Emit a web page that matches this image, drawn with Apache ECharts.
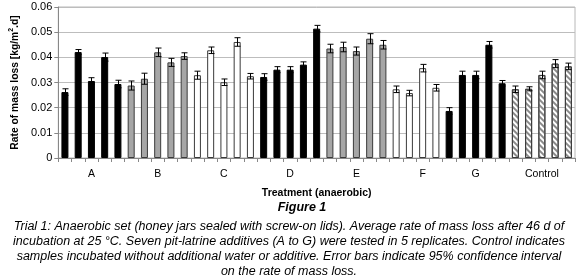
<!DOCTYPE html>
<html>
<head>
<meta charset="utf-8">
<script src="https://cdn.jsdelivr.net/npm/echarts@6/dist/echarts.min.js"></script>
<style>
html,body{margin:0;padding:0;background:#fff;}
#c{width:580px;height:278px;}
</style>
</head>
<body>
<div id="c"></div>
<script>
// ---- data ----
const groupNames = ['A', 'B', 'C', 'D', 'E', 'F', 'G', 'Control'];
const groupSizes = [5, 5, 5, 5, 5, 4, 5, 5];
const rateA = [0.0262, 0.0421, 0.0306, 0.0401, 0.0294];
const rateB = [0.0288, 0.0315, 0.0420, 0.0380, 0.0405];
const rateC = [0.0329, 0.0428, 0.0301, 0.0461, 0.0325];
const rateD = [0.0322, 0.0351, 0.0351, 0.0371, 0.0514];
const rateE = [0.0435, 0.0441, 0.0425, 0.0474, 0.0450];
const rateF = [0.0273, 0.0258, 0.0357, 0.0279];
const rateG = [0.0187, 0.0330, 0.0330, 0.0450, 0.0297];
const rateControl = [0.0273, 0.0275, 0.0330, 0.0375, 0.0364];
const ciA = [0.0013, 0.0010, 0.0013, 0.0016, 0.0015];
const ciB = [0.0018, 0.0022, 0.0017, 0.0016, 0.0013];
const ciC = [0.0016, 0.0013, 0.0013, 0.0017, 0.0011];
const ciD = [0.0013, 0.0012, 0.0012, 0.0011, 0.0013];
const ciE = [0.0017, 0.0019, 0.0016, 0.0020, 0.0017];
const ciF = [0.0013, 0.0011, 0.0015, 0.0013];
const ciG = [0.0013, 0.0015, 0.0015, 0.0013, 0.0011];
const ciControl = [0.0013, 0.0008, 0.0015, 0.0016, 0.0013];
const yTicks = [0, 0.01, 0.02, 0.03, 0.04, 0.05, 0.06];
const yTitle = 'Rate of mass loss [kg/m';
const xTitle = 'Treatment (anaerobic)';
const figTitle = 'Figure 1';
const captionLines = [
  'Trial 1: Anaerobic set (honey jars sealed with screw-on lids). Average rate of mass loss after 46 d of',
  'incubation at 25 \u00B0C. Seven pit-latrine additives (A to G) were tested in 5 replicates. Control indicates',
  'samples incubated without additional water or additive. Error bars indicate 95% confidence interval',
  'on the rate of mass loss.'
];

const rates = [rateA, rateB, rateC, rateD, rateE, rateF, rateG, rateControl];
const cis = [ciA, ciB, ciC, ciD, ciE, ciF, ciG, ciControl];

// ---- styles (kept separate from data) ----
const black = {color: '#000', borderColor: '#000', borderWidth: 1};
const gray = {color: '#a6a6a6', borderColor: '#3a3a3a', borderWidth: 1};
const white = {color: '#fff', borderColor: '#3a3a3a', borderWidth: 1};
const hatch = {color: '#fff', borderColor: '#3a3a3a', borderWidth: 1,
  decal: {symbol: 'rect', symbolSize: 1, dashArrayX: [1, 0], dashArrayY: [1.5, 1.5], rotation: Math.PI / 4, color: '#8a8a8a'}};
const groupStyles = [black, gray, white, black, gray, white, black, hatch];

const cats = [], barData = [], errData = [];
groupNames.forEach((g, gi) => {
  for (let k = 0; k < groupSizes[gi]; k++) {
    const name = g + '#' + k;
    cats.push(name);
    barData.push({value: rates[gi][k], itemStyle: groupStyles[gi]});
    errData.push([name, rates[gi][k], cis[gi][k]]);
  }
});

const FONT = '"Liberation Sans", Arial, sans-serif';
const chart = echarts.init(document.getElementById('c'), null, {renderer: 'canvas'});
chart.setOption({
  animation: false,
  backgroundColor: '#fff',
  textStyle: {fontFamily: FONT},
  grid: {left: 52, right: 5, top: 7, bottom: 120, show: true, borderColor: '#b8b8b8', borderWidth: 1, backgroundColor: 'transparent'},
  xAxis: {
    type: 'category',
    data: cats,
    name: xTitle,
    nameLocation: 'middle',
    nameGap: 30,
    nameTextStyle: {fontFamily: FONT, fontWeight: 'bold', fontSize: 10.5, color: '#000'},
    axisLine: {lineStyle: {color: '#888', width: 1}},
    axisTick: {show: true, interval: 0, length: 4, lineStyle: {color: '#888'}},
    axisLabel: {
      interval: 0, margin: 11, fontSize: 10.5, color: '#000', fontFamily: FONT,
      formatter: (v) => { const p = v.split('#'); return p[1] === '2' ? p[0] : ''; }
    }
  },
  yAxis: {
    type: 'value',
    min: 0, max: 0.06, interval: 0.01,
    name: '{a|' + yTitle + '}{s|2}{a|.d]}',
    nameLocation: 'middle',
    nameGap: 32,
    nameTextStyle: {
      rich: {
        a: {fontFamily: FONT, fontWeight: 'bold', fontSize: 10.3, color: '#000', lineHeight: 14},
        s: {fontFamily: FONT, fontWeight: 'bold', fontSize: 7, color: '#000', verticalAlign: 'top', lineHeight: 14}
      }
    },
    axisLine: {show: true, lineStyle: {color: '#888'}},
    axisTick: {show: true, length: 4, lineStyle: {color: '#888'}},
    axisLabel: {
      fontSize: 11, color: '#000', margin: 6, fontFamily: FONT,
      formatter: (v) => { const t = yTicks.find(x => Math.abs(x - v) < 1e-9); return t === 0 ? '0' : (t !== undefined ? t.toFixed(2) : ''); }
    },
    splitLine: {show: true, lineStyle: {color: '#bdbdbd', width: 1}}
  },
  series: [
    {
      type: 'bar',
      data: barData,
      barWidth: 7,
      z: 2
    },
    {
      type: 'custom',
      z: 3,
      data: errData,
      renderItem: function (params, api) {
        const x = api.value(0);
        const v = api.value(1), e = api.value(2);
        const hi = api.coord([x, v + e]);
        const lo = api.coord([x, v - e]);
        const cx = Math.round(hi[0]) + 0.5;
        const hw = 3;
        const st = {stroke: '#000', lineWidth: 1};
        return {
          type: 'group',
          children: [
            {type: 'line', shape: {x1: cx, y1: hi[1], x2: cx, y2: lo[1]}, style: st},
            {type: 'line', shape: {x1: cx - hw, y1: hi[1], x2: cx + hw, y2: hi[1]}, style: st},
            {type: 'line', shape: {x1: cx - hw, y1: lo[1], x2: cx + hw, y2: lo[1]}, style: st}
          ]
        };
      }
    }
  ],
  graphic: [
    {type: 'text', x: 302, y: 208, style: {text: figTitle, font: 'italic bold 12.5px ' + FONT, fill: '#000', align: 'center', verticalAlign: 'middle'}},
    {type: 'text', x: 289, y: 219, style: {text: captionLines.join('\n'), font: 'italic 12.5px ' + FONT, lineHeight: 15, fill: '#000', align: 'center', verticalAlign: 'top'}}
  ]
});
</script>
</body>
</html>
